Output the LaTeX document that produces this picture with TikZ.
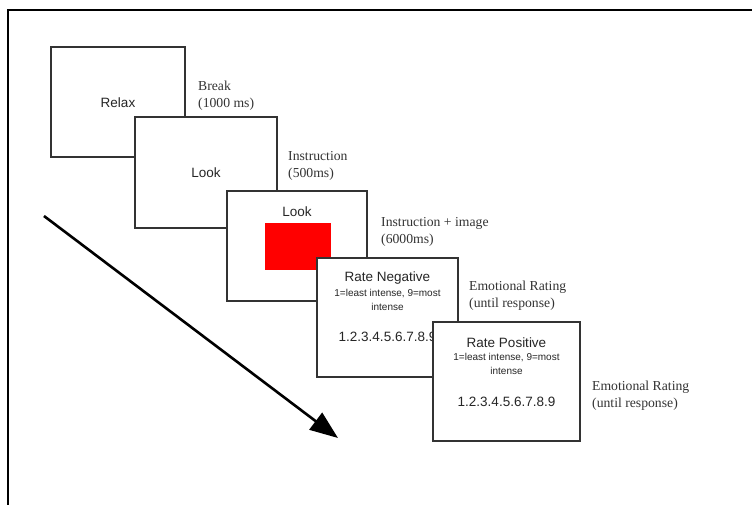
\documentclass[tikz,border=0pt]{standalone}
\usepackage{fontspec}
\setmainfont{Liberation Serif}
\newfontfamily\boxfont{Liberation Sans}
\usetikzlibrary{arrows.meta}

\tikzset{
  screen/.style={draw=black!80, line width=1.3pt, fill=white, inner sep=0pt},
  screentxt/.style={inner sep=0pt, text=black!85, font=\boxfont\fontsize{13.5}{16}\selectfont},
  smalltxt/.style={inner sep=0pt, text=black!85, font=\boxfont\fontsize{10}{12}\selectfont},
  steplabel/.style={inner sep=0pt, anchor=west, align=left, text=black!80,
    font=\fontsize{13.7}{17}\selectfont},
  frameline/.style={line width=2pt, black},
  timearrow/.style={line width=2.6pt, -{Triangle[length=28pt,width=21pt]}}
}

\begin{document}
\begin{tikzpicture}[x=1pt, y=-1pt]
  \useasboundingbox (0,0) rectangle (752,505);

  % outer frame (top and left edges)
  \draw[frameline] (8.3,505) -- (8.3,10) -- (752,10);

  % break screen
  \node[screen, minimum width=134pt, minimum height=110pt] (relax) at (118,102) {};
  \node[screentxt] (relaxtxt) at (118,103) {Relax};
  \node[steplabel] (breaklbl) at (198,96) {Break\\(1000 ms)};

  % instruction screen
  \node[screen, minimum width=142pt, minimum height=111pt] (look) at (206,172.5) {};
  \node[screentxt] (looktxt) at (206,173) {Look};
  \node[steplabel] (instrlbl) at (288,166) {Instruction\\(500ms)};

  % instruction + image screen
  \node[screen, minimum width=140pt, minimum height=110pt] (lookimg) at (297,246) {};
  \node[screentxt] (lookimgtxt) at (297,212) {Look};
  \node[fill=red, inner sep=0pt, minimum width=66pt, minimum height=47pt] (image) at (298,246.5) {};
  \node[steplabel] (imglbl) at (381,232) {Instruction + image\\(6000ms)};

  % negative rating screen
  \node[screen, minimum width=141pt, minimum height=119pt] (rateneg) at (387.5,317.5) {};
  \node[screentxt] (negtitle) at (387.5,278) {Rate Negative};
  \node[smalltxt] (negscale) at (387.5,293.5) {1=least intense, 9=most};
  \node[smalltxt] (negscaleb) at (387.5,306.5) {intense};
  \node[screentxt] (negdigits) at (387.5,337) {1.2.3.4.5.6.7.8.9};
  \node[steplabel] (neglbl) at (469,296) {Emotional Rating\\(until response)};

  % positive rating screen
  \node[screen, minimum width=147pt, minimum height=119pt] (ratepos) at (506.5,381.5) {};
  \node[screentxt] (postitle) at (506.5,343) {Rate Positive};
  \node[smalltxt] (posscale) at (506.5,357.5) {1=least intense, 9=most};
  \node[smalltxt] (posscaleb) at (506.5,371) {intense};
  \node[screentxt] (posdigits) at (506.5,402) {1.2.3.4.5.6.7.8.9};
  \node[steplabel] (poslbl) at (592,395.5) {Emotional Rating\\(until response)};

  % time arrow
  \coordinate (tstart) at (44,216);
  \coordinate (tend) at (338,438);
  \draw[timearrow] (tstart) -- (tend);
\end{tikzpicture}
\end{document}
